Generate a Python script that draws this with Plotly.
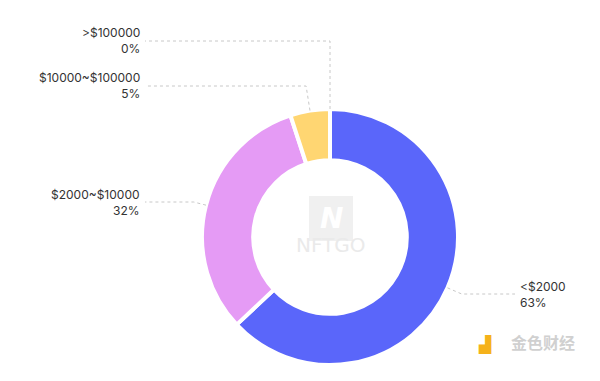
import math
import plotly.graph_objects as go

labels = ["<$2000", "$2000~$10000", "$10000~$100000", ">$100000"]
values = [63, 32, 5, 0]
pct_text = ["63%", "32%", "5%", "0%"]
colors = ["#5A66FA", "#E59BF5", "#FFD672", "#FFD672"]

W, H = 600, 381
CX, CY, R = 330, 237, 128  # donut center / radius in px (layout)

# label layout (px): (x anchor, y of leader line, side)
label_pos = [(518, 294, "left"), (142, 202, "right"), (142, 86, "right"), (142, 41, "right")]

def px(x):
    return x / W

def py(y):
    return 1 - y / H

fig = go.Figure()
fig.add_trace(go.Pie(
    labels=labels, values=values, hole=0.6, sort=False, direction="clockwise",
    rotation=0, textinfo="none", hoverinfo="label+percent",
    marker=dict(colors=colors, line=dict(color="white", width=4)),
    domain=dict(x=[px(CX - R), px(CX + R)], y=[py(CY + R), py(CY - R)]),
    showlegend=False,
))

total = sum(values)
cum = 0
shapes = []
annotations = []
for i, v in enumerate(values):
    mid = (cum + v / 2) / total * 2 * math.pi
    cum += v
    dx, dy = math.sin(mid), -math.cos(mid)
    p0 = (CX + R * dx, CY + R * dy)
    lx, ly, side = label_pos[i]
    if abs(dy) > 1e-6:
        t = (ly - p0[1]) / dy
        t = max(t, 0)
    else:
        t = 0
    ex = p0[0] + t * dx
    if v == 0:
        ex = p0[0]
    elbow = (ex, ly)
    end_x = lx + 3 if side == "right" else lx - 3
    path = f"M {px(p0[0])},{py(p0[1])} L {px(elbow[0])},{py(elbow[1])} L {px(end_x)},{py(ly)}"
    shapes.append(dict(type="path", path=path, xref="paper", yref="paper",
                       line=dict(color="#C8C8C8", width=1, dash="3px,3px")))
    annotations.append(dict(
        x=px(lx), y=py(ly), xref="paper", yref="paper",
        text=f"{labels[i]}<br>{pct_text[i]}", showarrow=False,
        xanchor="right" if side == "right" else "left", yanchor="middle",
        align="right" if side == "right" else "left",
        font=dict(family="Inter, Open Sans, sans-serif", size=12, color="#333333"),
    ))

# watermark in the center (NFTGO)
shapes.append(dict(type="rect", xref="paper", yref="paper",
                   x0=px(309), x1=px(353), y0=py(241), y1=py(196),
                   fillcolor="#F0F0F0", line=dict(width=0), layer="above"))
annotations.append(dict(x=px(331), y=py(218), xref="paper", yref="paper", text="<b><i>N</i></b>",
                        showarrow=False, font=dict(family="DejaVu Sans", size=28, color="white")))
annotations.append(dict(x=px(331), y=py(259), xref="paper", yref="paper", text="NFTGO",
                        showarrow=False, font=dict(family="DejaVu Sans", size=20, color="#EAEAEA")))
# watermark bottom right
annotations.append(dict(x=px(494), y=py(356), xref="paper", yref="paper", text="<b>▟</b>",
                        showarrow=False, font=dict(family="DejaVu Sans", size=16, color="#F5B21B")))
annotations.append(dict(x=px(509), y=py(356), xref="paper", yref="paper", text="<b>金色财经</b>",
                        showarrow=False, xanchor="left",
                        font=dict(family="Noto Sans CJK SC", size=16, color="#D0D0D0")))

fig.update_layout(
    width=W, height=H, margin=dict(l=0, r=0, t=0, b=0),
    paper_bgcolor="white", plot_bgcolor="white",
    shapes=shapes, annotations=annotations,
)
fig.write_html("out.html", config={"displayModeBar": False},
               post_script="document.body.style.margin='0';document.body.style.padding='0';")
